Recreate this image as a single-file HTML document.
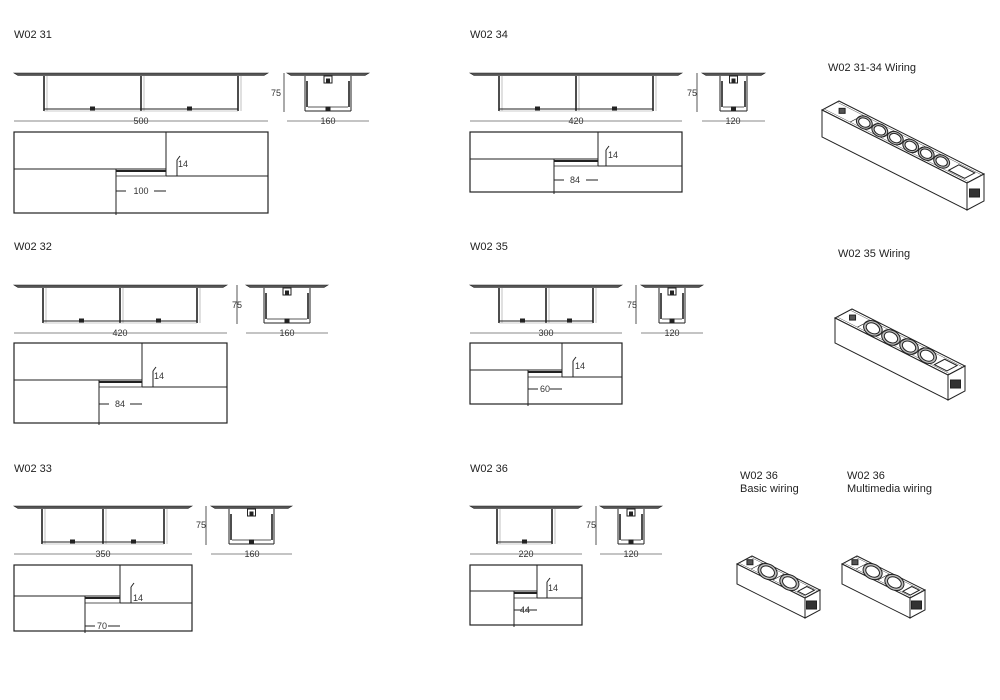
<!DOCTYPE html>
<html><head><meta charset="utf-8"><style>
html,body{margin:0;padding:0;background:#fff;}
svg{display:block;}
text{font-family:"Liberation Sans",sans-serif;fill:#222;}
.t{font-size:11px;}
.d{font-size:9px;fill:#333;}
</style></head><body>
<svg id="s" width="1000" height="700" viewBox="0 0 1000 700" xmlns="http://www.w3.org/2000/svg">
<g id="g" stroke="#222" fill="none" stroke-width="1"></g>
<text class="t" x="14" y="38">W02 31</text>
<text class="t" x="470" y="38">W02 34</text>
<text class="t" x="14" y="250">W02 32</text>
<text class="t" x="470" y="250">W02 35</text>
<text class="t" x="14" y="472">W02 33</text>
<text class="t" x="470" y="472">W02 36</text>
<text class="t" x="828" y="71">W02 31-34 Wiring</text>
<text class="t" x="838" y="257">W02 35 Wiring</text>
<text class="t" x="740" y="479">W02 36</text>
<text class="t" x="740" y="492">Basic wiring</text>
<text class="t" x="847" y="479">W02 36</text>
<text class="t" x="847" y="492">Multimedia wiring</text>
<text class="d" x="141" y="124" text-anchor="middle">500</text>
<text class="d" x="328" y="124" text-anchor="middle">160</text>
<text class="d" x="276" y="96" text-anchor="middle">75</text>
<text class="d" x="178" y="167">14</text>
<text class="d" x="141" y="194" text-anchor="middle">100</text>
<text class="d" x="576" y="124" text-anchor="middle">420</text>
<text class="d" x="733" y="124" text-anchor="middle">120</text>
<text class="d" x="692" y="96" text-anchor="middle">75</text>
<text class="d" x="608" y="158">14</text>
<text class="d" x="575" y="183" text-anchor="middle">84</text>
<text class="d" x="120" y="336" text-anchor="middle">420</text>
<text class="d" x="287" y="336" text-anchor="middle">160</text>
<text class="d" x="237" y="308" text-anchor="middle">75</text>
<text class="d" x="154" y="379">14</text>
<text class="d" x="120" y="407" text-anchor="middle">84</text>
<text class="d" x="546" y="336" text-anchor="middle">300</text>
<text class="d" x="672" y="336" text-anchor="middle">120</text>
<text class="d" x="632" y="308" text-anchor="middle">75</text>
<text class="d" x="575" y="369">14</text>
<text class="d" x="545" y="392" text-anchor="middle">60</text>
<text class="d" x="103" y="557" text-anchor="middle">350</text>
<text class="d" x="252" y="557" text-anchor="middle">160</text>
<text class="d" x="201" y="528" text-anchor="middle">75</text>
<text class="d" x="133" y="601">14</text>
<text class="d" x="102" y="629" text-anchor="middle">70</text>
<text class="d" x="526" y="557" text-anchor="middle">220</text>
<text class="d" x="631" y="557" text-anchor="middle">120</text>
<text class="d" x="591" y="528" text-anchor="middle">75</text>
<text class="d" x="548" y="591">14</text>
<text class="d" x="525" y="613" text-anchor="middle">44</text>
</svg>
<script>
const g=document.getElementById('g');
function el(t,a){const e=document.createElementNS('http://www.w3.org/2000/svg',t);for(const k in a)e.setAttribute(k,a[k]);g.appendChild(e);return e;}
function L(x1,y1,x2,y2,w,c){el('line',{x1,y1,x2,y2,'stroke-width':w||1,stroke:c||'#222'});}
function slab(x0,x1,top){el('polygon',{points:`${x0},${top} ${x1},${top} ${x1-4},${top+2.5} ${x0+4},${top+2.5}`,fill:'#555','stroke-width':0.6});}
function side(x0,x1,top,legs){
  slab(x0,x1,top);
  const b=top+38;
  legs.forEach(x=>{L(x,top+3,x,b,1.6);L(x+3,top+3,x+3,b,0.6,'#999');});
  L(legs[0],b-2,legs[legs.length-1],b-2,1);
  L(legs[0],b,legs[legs.length-1],b,0.6,'#999');
  for(let i=0;i<legs.length-1;i++){const m=(legs[i]+legs[i+1])/2;el('rect',{x:m-2,y:b-4,width:4,height:3,fill:'#222'});}
  L(x0,top+48,x1,top+48,1,'#888');
}
function end(x0,x1,top){
  slab(x0,x1,top);
  const a=x0+18,c=x1-18,b=top+38,m=(x0+x1)/2;
  L(a,top+3,a,b,1);L(a+2,top+8,a+2,b-4,1.6);L(c,top+3,c,b,1);L(c-2,top+8,c-2,b-4,1.6);
  L(a,b,c,b,1);L(a+3,b-4,c-3,b-4,0.8);
  el('rect',{x:m-4,y:top+3,width:8,height:7});el('rect',{x:m-1.5,y:top+6,width:3,height:3,fill:'#222'});
  el('rect',{x:m-2,y:b-4,width:4,height:3,fill:'#222'});
  L(x0,top+48,x1,top+48,1,'#888');
}
function vdim(x,top){L(x,top,x,top+39,1,'#555');}
function plan(x0,x1,y0,y1,xv,yh,xl,tick,dimy){
  el('rect',{x:x0,y:y0,width:x1-x0,height:y1-y0,'stroke-width':1.2});
  L(xv,y0,xv,yh+7,1);L(x0,yh,xv,yh,1);L(xl,yh+2,xv,yh+2,2);L(xv,yh+7,x1,yh+7,1);
  L(xl,yh,xl,y1+2,1);L(xl,yh+7,xv,yh+7,0.8);
  L(tick,yh-9,tick,yh+7,1);L(tick,yh-9,tick+3,yh-13,1);
  L(xl,dimy,xl+10,dimy,1);L(xv-12,dimy,xv,dimy,1);
}
side(14,268,73,[44,141,238]);end(287,369,73);vdim(284,73);plan(14,268,132,213,166,169,116,177,191);
side(470,682,73,[499,576,653]);end(702,765,73);vdim(697,73);plan(470,682,132,192,598,159,554,606,180);
side(14,227,285,[43,120,197]);end(246,328,285);vdim(237,285);plan(14,227,343,423,142,380,99,153,404);
side(470,622,285,[499,546,593]);end(641,703,285);vdim(636,285);plan(470,622,343,404,562,370,528,573,389);
side(14,192,506,[42,103,164]);end(211,292,506);vdim(206,506);plan(14,192,565,631,120,596,85,131,626);
side(470,582,506,[497,552]);end(600,662,506);vdim(596,506);plan(470,582,565,625,537,591,514,547,610);
function strip(px,py,ux,uy,vx,vy,h,n){
  const P=(t,s,z)=>[px+t*ux+s*vx,py+t*uy+s*vy+(z||0)];
  const pt=a=>a.map(p=>p.join(',')).join(' ');
  el('polygon',{points:pt([P(0,0),P(1,0),P(1,1),P(0,1)]),fill:'#fff'});
  el('polygon',{points:pt([P(0,0),P(1,0),P(1,0,h),P(0,0,h)]),fill:'#fff'});
  el('polygon',{points:pt([P(1,0),P(1,1),P(1,1,h),P(1,0,h)]),fill:'#fff'});
  L(...P(0,0.12),...P(1,0.12),0.5,'#555');L(...P(0,0.88),...P(1,0.88),0.5,'#555');
  const ang=Math.atan2(uy,ux)*180/Math.PI;const len=Math.hypot(ux,uy);
  const t0=0.18,t1=0.82,step=(t1-t0)/n;
  for(let i=0;i<n;i++){const t=t0+step*(i+0.5);const [cx,cy]=P(t,0.5);
    const r=Math.min(step*len*0.48,10);
    el('ellipse',{cx,cy,rx:r,ry:r*0.75,transform:`rotate(${ang} ${cx} ${cy})`,fill:'#bbb'});
    el('ellipse',{cx,cy,rx:r*0.72,ry:r*0.52,transform:`rotate(${ang} ${cx} ${cy})`,fill:'#fff'});
    const [ax,ay]=P(t-step/2,0.12),[bx,by]=P(t-step/2,0.88);L(ax,ay,bx,by,0.6);
  }
  const [ax,ay]=P(0.85,0.2),[bx,by]=P(0.96,0.2),[cx2,cy2]=P(0.96,0.8),[dx,dy]=P(0.85,0.8);
  el('polygon',{points:`${ax},${ay} ${bx},${by} ${cx2},${cy2} ${dx},${dy}`});
  const [ex,ey]=P(0.08,0.5);el('rect',{x:ex-3,y:ey-3,width:6,height:5,fill:'#555'});
  const [fx,fy]=P(1,0.5,h*0.5);el('rect',{x:fx-6,y:fy-3,width:10,height:8,fill:'#333'});
}
strip(822,110,145,73,17,-9,27,6);
strip(835,318,113,57,17,-9,25,4);
strip(737,564,68,34,15,-8,20,2);
strip(842,564,68,34,15,-8,20,2);
</script>
</body></html>
